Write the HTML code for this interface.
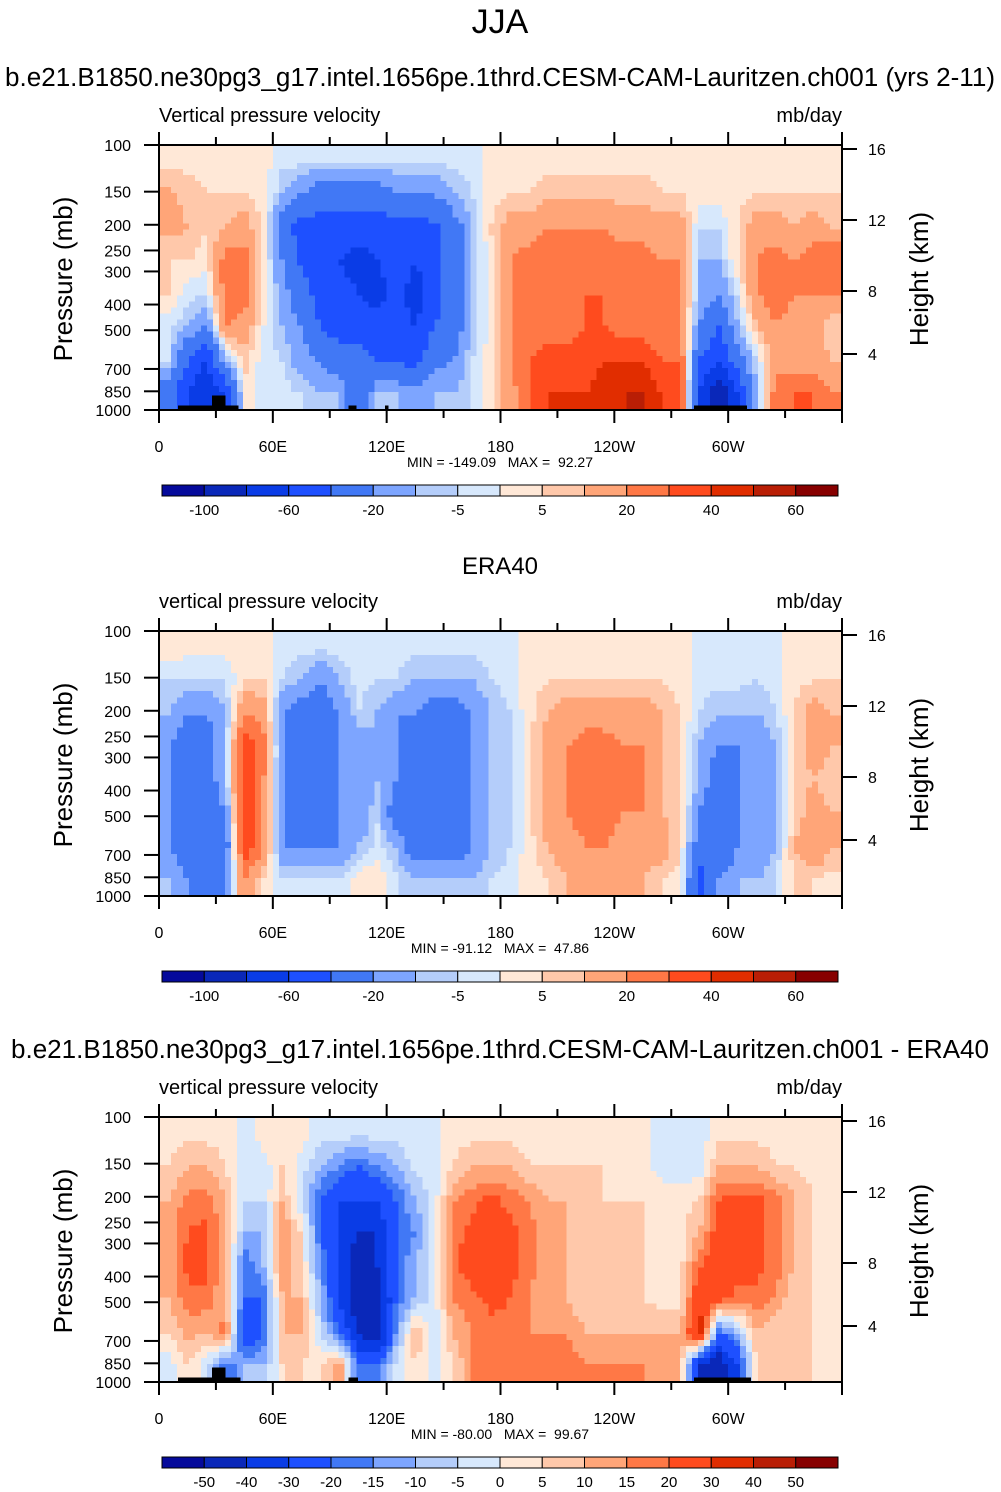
<!DOCTYPE html>
<html><head><meta charset="utf-8">
<style>
body{margin:0;background:#fff;width:1001px;height:1492px;overflow:hidden;font-family:"Liberation Sans",sans-serif;}
svg{display:block}
</style></head>
<body>
<svg id="fig" width="1001" height="1492" xmlns="http://www.w3.org/2000/svg" font-family="Liberation Sans, sans-serif">
<text x="500" y="33" font-size="34" text-anchor="middle">JJA</text>
<text x="500" y="86" font-size="25.5" text-anchor="middle" textLength="990" lengthAdjust="spacingAndGlyphs">b.e21.B1850.ne30pg3_g17.intel.1656pe.1thrd.CESM-CAM-Lauritzen.ch001 (yrs 2-11)</text>
<text x="500" y="574" font-size="24" text-anchor="middle">ERA40</text>
<text x="500" y="1058" font-size="25.5" text-anchor="middle" textLength="978" lengthAdjust="spacingAndGlyphs">b.e21.B1850.ne30pg3_g17.intel.1656pe.1thrd.CESM-CAM-Lauritzen.ch001 - ERA40</text>
</svg>
<script>
// ---- data ----
const lonCenters = [5,15,25,35,45,55,65,75,85,95,105,115,125,135,145,155,165,175,185,195,205,215,225,235,245,255,265,275,285,295,305,315,325,335,345,355];
const xTickLabels = ["0","60E","120E","180","120W","60W"];
const xTickLons = [0,60,120,180,240,300];
const pTicks = [100,150,200,250,300,400,500,700,850,1000];
const hTicks = [16,12,8,4];
const levelsA = [-100,-80,-60,-40,-20,-10,-5,0,5,10,20,30,40,50,60];
const levelsD = [-50,-40,-30,-20,-15,-10,-5,0,5,10,15,20,30,40,50];
const barLabelsA = ["-100","-60","-20","-5","5","20","40","60"];
const barLabelsD = ["-50","-40","-30","-20","-15","-10","-5","0","5","10","15","20","30","40","50"];
// rows top(100mb) -> bottom(1000mb), one column per 10 deg lon
const model = [
[3,12,12,5,5,-3,-3,-30],[3,8,10,5,-3,-10,-40,-60],[3,5,5,3,-5,-20,-60,-80],[3,5,10,25,25,20,-10,-60],
[3,5,15,25,25,15,8,3],[2,3,3,3,3,0,-3,-3],[-3,-10,-30,-20,-15,-10,-5,-3],[-3,-20,-50,-45,-30,-20,-15,-5],
[-5,-30,-50,-50,-50,-40,-20,-10],[-5,-30,-50,-60,-50,-50,-30,-10],[-5,-30,-50,-70,-60,-50,-30,-40],[-5,-30,-50,-60,-70,-50,-40,-10],
[-5,-20,-50,-50,-50,-50,-40,-10],[-5,-20,-50,-60,-70,-60,-50,-15],[-5,-20,-45,-50,-50,-40,-25,-10],[-3,-10,-30,-30,-30,-30,-20,-10],
[-3,-5,-10,-10,-10,-10,-5,-5],[2,3,5,3,3,3,3,3],[3,5,15,20,20,20,20,15],[3,5,15,25,25,25,30,30],
[3,8,20,25,25,25,35,40],[3,8,20,25,25,25,35,40],[3,8,20,25,30,30,35,40],[3,8,20,25,30,30,40,45],
[3,8,15,25,30,25,40,50],[3,8,15,25,25,25,40,50],[3,5,15,20,20,20,30,40],[3,5,15,20,20,20,30,35],
[3,3,-5,-10,-10,-20,-40,-60],[3,3,-5,-10,-20,-40,-60,-100],[3,3,5,5,-5,-10,-30,-60],[3,5,15,20,20,10,-5,-10],
[3,5,15,25,25,20,15,25],[3,5,10,20,20,15,15,30],[3,5,15,25,20,15,15,30],[3,5,10,30,20,5,10,20]];
const era = [
[3,-5,-10,-20,-20,-20,-20,-10],[2,-5,-20,-30,-40,-30,-30,-20],[2,-5,-20,-30,-30,-30,-30,-30],[2,-5,-10,-10,-10,-20,-30,-20],
[3,5,20,40,40,40,40,20],[3,5,15,25,20,20,20,5],[-3,-5,-20,-20,-20,-20,-20,-5],[-3,-10,-30,-30,-30,-30,-20,-5],
[-3,-20,-30,-30,-30,-30,-20,-5],[-3,-10,-20,-20,-20,-20,-20,-5],[-3,-3,-5,-20,-20,-20,-10,3],[-3,-5,-10,-10,-10,-5,-3,5],
[-3,-5,-20,-20,-20,-30,-10,-3],[-3,-10,-20,-30,-30,-40,-30,-10],[-3,-10,-30,-30,-40,-40,-30,-10],[-3,-10,-30,-30,-40,-30,-30,-10],
[-3,-10,-20,-20,-20,-20,-20,-10],[-3,-5,-10,-10,-10,-10,-10,-5],[-3,-3,-5,-5,-5,-5,-5,-3],[2,3,3,3,3,3,3,3],
[3,5,10,15,15,15,10,5],[3,5,15,20,20,20,15,10],[3,5,15,25,25,25,20,10],[3,5,15,25,25,25,20,10],
[3,5,15,20,20,20,15,10],[3,5,15,20,20,20,15,10],[3,5,10,10,10,10,15,5],[3,3,5,5,5,5,5,3],
[-3,-3,-5,-10,-10,-20,-30,-50],[-3,-3,-10,-20,-30,-40,-40,-20],[-3,-3,-10,-20,-20,-20,-20,-10],[-3,-5,-10,-20,-20,-20,-20,-10],
[-3,-3,-5,-10,-10,-10,-10,-5],[3,3,5,5,5,5,10,5],[3,5,15,15,10,15,20,5],[3,5,10,10,5,10,10,3]];
const diff = [
[3,5,10,12,10,10,5,-3],[3,10,17,20,22,18,12,5],[3,10,18,22,22,18,10,-3],[3,5,10,10,10,10,18,-20],
[-3,-3,-5,-10,-20,-20,-30,-10],[3,-3,-5,-10,-10,-20,-20,-10],[3,5,10,15,15,10,10,5],[3,-3,-5,5,5,10,10,5],
[-3,-10,-20,-20,-15,-10,-5,3],[-3,-15,-30,-30,-30,-30,-20,15],[-3,-20,-30,-40,-50,-50,-40,-20],[-3,-15,-30,-40,-40,-50,-50,-20],
[-3,-10,-20,-20,-20,-20,-15,-3],[-3,-3,-10,-15,-10,-10,10,5],[-3,-3,-3,-3,-3,-3,-3,-3],[3,5,15,18,18,15,10,5],
[3,10,18,22,24,18,15,15],[3,10,22,24,28,22,18,18],[3,10,18,22,22,20,18,18],[3,5,15,18,18,15,15,18],
[3,5,10,10,10,10,15,18],[3,5,10,10,10,10,15,18],[3,5,5,5,5,5,10,15],[3,5,5,5,5,5,10,15],
[3,3,5,5,5,5,10,15],[3,3,5,5,5,5,10,15],[-3,-3,3,3,3,3,10,10],[-3,-3,3,3,3,3,10,10],
[-3,-3,5,10,20,30,35,-40],[3,10,20,24,24,22,-20,-50],[3,10,22,24,24,18,-10,-30],[3,10,22,22,22,18,10,5],
[3,5,18,18,18,15,5,5],[3,5,10,10,10,5,5,5],[3,3,5,5,5,5,5,5],[3,3,3,3,3,3,3,3]];
const minmax = ["MIN = -149.09   MAX =  92.27","MIN = -91.12   MAX =  47.86","MIN = -80.00   MAX =  99.67"];
const subtitles = ["Vertical pressure velocity","vertical pressure velocity","vertical pressure velocity"];
// topography blocks [lonStart, lonEnd, topPressure]
const topo1 = [[10,42,960],[28,35,880],[100,104,960],[119,121,960],[282,310,960]];
const topo3 = [[10,43,960],[28,35,880],[100,105,960],[282,312,960]];

const colors = ["#050a9b","#0a28b9","#0a3ce6","#1e50ff","#4178f5","#7da5ff","#b4cdfa","#d7e8fc","#ffe8d7","#ffc8aa","#ffa578","#ff7846","#ff4b1e","#e12d00","#b91e05","#870000"];
const NS="http://www.w3.org/2000/svg";
const svg=document.getElementById('fig');
function mk(tag,attrs,parent){const e=document.createElementNS(NS,tag);for(const k in attrs)e.setAttribute(k,attrs[k]);(parent||svg).appendChild(e);return e;}
const X0=159,X1=842,H=265;
function xOf(lon){return X0+(X1-X0)*lon/360;}
function colorIdx(v,lev){let i=0;while(i<lev.length&&v>=lev[i])i++;return i;}
const hPix={16:4,12:75,8:146,4:209};

function sample(data,fx,fy){
  const nc=data.length,nr=data[0].length;
  fx=Math.max(0,Math.min(nc-1,fx));fy=Math.max(0,Math.min(nr-1,fy));
  const i0=Math.floor(fx),j0=Math.floor(fy),i1=Math.min(nc-1,i0+1),j1=Math.min(nr-1,j0+1);
  const a=fx-i0,b=fy-j0;
  return (data[i0][j0]*(1-a)+data[i1][j0]*a)*(1-b)+(data[i0][j1]*(1-a)+data[i1][j1]*a)*b;
}

function panel(top,data,lev,barLab,topo,k){
  const yOfP=p=>top+H*Math.log(p/100)/Math.log(10);
  const g=mk('g',{'shape-rendering':'crispEdges'});
  
  
  const nc=data.length,nr=data[0].length;
  const NX=114,NY=44,cw=(X1-X0)/NX,ch=H/NY;
  for(let ix=0;ix<NX;ix++){
    for(let iy=0;iy<NY;iy++){
      const fx=((ix+0.5)/NX)*nc-0.5, fy=((iy+0.5)/NY)*nr-0.5;
      const v=sample(data,fx,fy);
      const r=mk('rect',{x:(X0+ix*cw).toFixed(2),y:(top+iy*ch).toFixed(2),width:(cw+0.5).toFixed(2),height:(ch+0.5).toFixed(2),fill:colors[colorIdx(v,lev)]},g);
      
      
    }
  }
  (topo||[]).forEach(t=>{
    const b=mk('rect',{x:xOf(t[0]),y:yOfP(t[2]),width:xOf(t[1])-xOf(t[0]),height:top+H-yOfP(t[2]),fill:'#000'},g);
    
    
  });
  const fr=mk('rect',{x:X0,y:top,width:X1-X0,height:H,fill:'none',stroke:'#000','stroke-width':2});
  
  
  pTicks.forEach(p=>{
    const y=yOfP(p);
    mk('line',{x1:X0-15,x2:X0,y1:y,y2:y,stroke:'#000','stroke-width':2});
    const t=mk('text',{x:131,y:y+6,'font-size':16,'text-anchor':'end'});t.textContent=p;
    
    
  });
  hTicks.forEach(h=>{
    const yy=top+hPix[h];
    mk('line',{x1:X1,x2:X1+15,y1:yy,y2:yy,stroke:'#000','stroke-width':2});
    const t=mk('text',{x:868,y:yy+6,'font-size':16});t.textContent=h;
    
    
  });
  for(let lon=0;lon<=360;lon+=30){
    const x=xOf(lon),len=lon%60===0?13:8;
    mk('line',{x1:x,x2:x,y1:top+H,y2:top+H+len,stroke:'#000','stroke-width':2});
    mk('line',{x1:x,x2:x,y1:top,y2:top-len,stroke:'#000','stroke-width':2});
  }
  xTickLons.forEach((lon,i)=>{
    const t=mk('text',{x:xOf(lon),y:top+307,'font-size':16,'text-anchor':'middle'});t.textContent=xTickLabels[i];
    
    
  });
  let t=mk('text',{x:X0,y:top-23,'font-size':20});t.textContent=subtitles[k];
  
  
  t=mk('text',{x:X1,y:top-23,'font-size':20,'text-anchor':'end'});t.textContent='mb/day';
  
  
  t=mk('text',{x:0,y:0,'font-size':26,'text-anchor':'middle',transform:`translate(72 ${top+134}) rotate(-90)`});t.textContent='Pressure (mb)';
  
  
  t=mk('text',{x:0,y:0,'font-size':26,'text-anchor':'middle',transform:`translate(928 ${top+134}) rotate(-90)`});t.textContent='Height (km)';
  
  
  t=mk('text',{x:500,y:top+322,'font-size':14,'text-anchor':'middle','xml:space':'preserve',style:'white-space:pre'});t.textContent=minmax[k];
  
  
  const cb=mk('g',{});
  
  
  const bx=162,bw=676/16,by=top+340;
  colors.forEach((c,i)=>mk('rect',{x:bx+i*bw,y:by,width:bw,height:11,fill:c,stroke:'#000','stroke-width':1},cb));
  barLab.forEach((l,i)=>{
    const b=barLab.length===8?2*i+1:i+1;
    const tt=mk('text',{x:bx+b*bw,y:by+30,'font-size':15,'text-anchor':'middle'},cb);tt.textContent=l;
    
    
  });
}
panel(145,model,levelsA,barLabelsA,topo1,0);
panel(631,era,levelsA,barLabelsA,null,1);
panel(1117,diff,levelsD,barLabelsD,topo3,2);
</script>
</body></html>
